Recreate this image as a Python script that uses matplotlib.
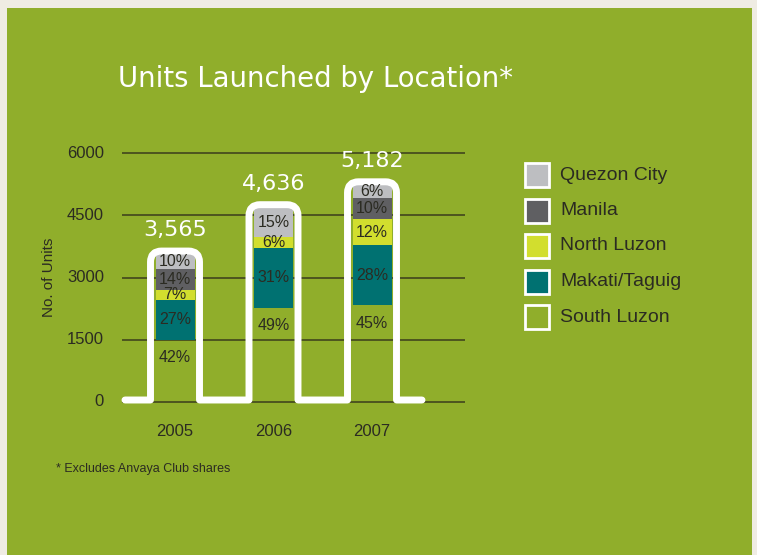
import numpy as np
import matplotlib
matplotlib.use('Agg')
import matplotlib.pyplot as plt
from matplotlib.patches import Rectangle
from matplotlib.path import Path
from matplotlib.patches import PathPatch

# data
years = ['2005', '2006', '2007']
totals = [3565, 4636, 5182]
# shares (%) bottom to top
south_luzon = [42, 49, 45]
makati_taguig = [27, 31, 28]
north_luzon = [7, 6, 12]
manila = [14, 0, 10]
quezon_city = [10, 15, 6]
y_ticks = [0, 1500, 3000, 4500, 6000]

series = [('South Luzon', south_luzon, '#90ae2b'),
          ('Makati/Taguig', makati_taguig, '#007171'),
          ('North Luzon', north_luzon, '#d2de2e'),
          ('Manila', manila, '#5f5f62'),
          ('Quezon City', quezon_city, '#bdbec1')]

bg = '#90ae2b'
dark = '#2b2b22'
W, H = 757, 555

fig = plt.figure(figsize=(W / 100, H / 100), dpi=100, facecolor='#efece3')
fig.patches.append(Rectangle((7 / W, 0), (752 - 7) / W, 1 - 8 / H, transform=fig.transFigure,
                             facecolor=bg, edgecolor='none', zorder=-5))

# axes placement: x 122..465 px, y 420..140 px
ax = fig.add_axes([122 / W, (H - 420) / H, 343 / W, 280 / H])
ax.set_facecolor('none')
px_x = 1 / 98.5           # data x per pixel
px_y = 6000 / 249         # data y per pixel
ax.set_xlim(-53 * px_x, 2 + 93 * px_x)
ax.set_ylim(-18 * px_y, 262 * px_y)
for s in ax.spines.values():
    s.set_visible(False)
ax.set_xticks([])
ax.set_yticks([])

for t in y_ticks:
    ax.axhline(t, color='#3a3d1c', lw=1.1, zorder=1)
    ax.text(-71 * px_x, t, str(t), ha='right', va='center', fontsize=12,
            color=dark, family='Liberation Sans', clip_on=False)

x = np.arange(len(years))
bar_w = 39 * px_x
bottoms = np.zeros(len(years))
for name, pct, col in series:
    vals = np.array(pct) / 100 * np.array(totals)
    # the bottom segment shares the background colour, gridlines show through it
    z = 0.5 if name == 'South Luzon' else 2
    ax.bar(x, vals, bar_w, bottom=bottoms, color=col, edgecolor='none', zorder=z)
    for i in range(len(years)):
        if pct[i] == 0:
            continue
        if name == 'South Luzon':
            ax.annotate(f'{pct[i]}%', (x[i], bottoms[i] + vals[i]), xytext=(0, -13),
                        textcoords='offset points', ha='center', va='center',
                        fontsize=11.5, color=dark, family='Liberation Sans', zorder=4)
        else:
            ax.text(x[i], bottoms[i] + vals[i] / 2, f'{pct[i]}%', ha='center', va='center',
                    fontsize=11.5, color=dark, family='Liberation Sans', zorder=4)
    bottoms = bottoms + vals

# hand-drawn white outline around the bars
pad = 5
rx, ry = 11 * px_x, 11 * px_y
verts = [(-50 * px_x, 2 * px_y)]
codes = [Path.MOVETO]
for i in range(len(years)):
    l = x[i] - bar_w / 2 - pad * px_x
    r = x[i] + bar_w / 2 + pad * px_x
    top = bottoms[i] + 3 * px_y
    verts += [(l, 2 * px_y), (l, top - ry), (l, top), (l + rx, top), (r - rx, top),
              (r, top), (r, top - ry), (r, 2 * px_y)]
    codes += [Path.LINETO, Path.LINETO, Path.CURVE3, Path.CURVE3, Path.LINETO,
              Path.CURVE3, Path.CURVE3, Path.LINETO]
    ax.annotate(f'{totals[i]:,}', (x[i], top), xytext=(0, 15), textcoords='offset points',
                ha='center', va='center', fontsize=16, color='white', zorder=5,
                annotation_clip=False)
verts.append((2 + 50 * px_x, 2 * px_y))
codes.append(Path.LINETO)
ax.add_patch(PathPatch(Path(verts, codes), facecolor='none', edgecolor='white', lw=5,
                       capstyle='round', joinstyle='round', zorder=3, clip_on=False))

for i, yr in enumerate(years):
    ax.text(x[i], -30 * px_y, yr, ha='center', va='center', fontsize=12,
            color=dark, family='Liberation Sans', clip_on=False)

fig.text(49 / W, 1 - 277 / H, 'No. of Units', rotation=90, ha='center', va='center',
         fontsize=11, color=dark, family='Liberation Sans')

fig.text(118 / W, 1 - 79 / H, 'Units Launched by Location*', ha='left', va='center',
         fontsize=19.8, color='white')

# legend
for k, (name, pct, col) in enumerate(series[::-1]):
    yc = 175 + k * 35.5
    fig.patches.append(Rectangle((525 / W, 1 - (yc + 12) / H), 24 / W, 24 / H,
                                 transform=fig.transFigure, facecolor=col,
                                 edgecolor='white', lw=2, zorder=3))
    fig.text(560 / W, 1 - yc / H, name, ha='left', va='center', fontsize=14,
             color=dark, family='Liberation Sans')

fig.text(56 / W, 1 - 469 / H, '* Excludes Anvaya Club shares', ha='left', va='center',
         fontsize=9, color=dark, family='Liberation Sans')

fig.savefig('out.png', dpi=100, facecolor=fig.get_facecolor())
